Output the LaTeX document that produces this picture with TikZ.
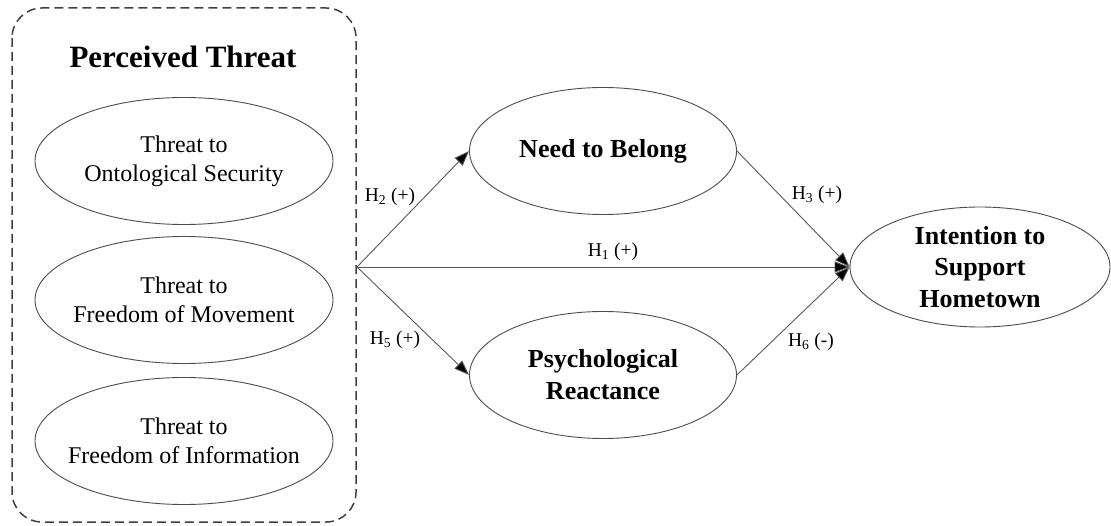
\documentclass[tikz,border=0pt]{standalone}
\usepackage{fontspec}
\setmainfont{Liberation Serif}
\usetikzlibrary{shapes.geometric,arrows.meta}
\tikzset{
  oval/.style={ellipse,draw=black!70,line width=0.9pt,inner sep=0pt,align=center,text=black},
  leftoval/.style={oval,minimum width=298pt,minimum height=127pt},
  lefttext/.style={align=center,inner sep=0pt,font=\fontsize{24}{29}\selectfont},
  midoval/.style={oval,minimum width=267pt,minimum height=127pt,font=\fontsize{26}{32}\selectfont\bfseries},
  rightoval/.style={oval,minimum width=260pt,minimum height=120pt,font=\fontsize{26}{31.5}\selectfont\bfseries},
  hyp/.style={draw=black!65,line width=0.9pt,-{Triangle[length=15pt,width=11pt,fill=black]}},
  hlabel/.style={font=\fontsize{19.5}{22}\selectfont,inner sep=0pt},
  groupbox/.style={draw=black!75,line width=1.5pt,dash pattern=on 9pt off 5pt,rounded corners=30pt}
}
\begin{document}
\begin{tikzpicture}[x=1pt,y=-1pt]
\useasboundingbox (0,0) rectangle (1111,526);
\draw[groupbox] (12,8) rectangle (356,522);
\node[font=\fontsize{31}{35}\selectfont\bfseries,anchor=base,inner sep=0pt] (pt) at (183,68) {Perceived Threat};
\node[leftoval] (os) at (184,161) {};
\node[lefttext] (ost) at (os.center) {Threat to\\Ontological Security};
\node[leftoval] (fm) at (184,300) {};
\node[lefttext] (fmt) at (fm.center) {Threat to\\Freedom of Movement};
\node[leftoval] (fi) at (184,441) {};
\node[lefttext] (fit) at (fi.center) {Threat to\\Freedom of Information};
\coordinate (src) at (357,267);
\node[midoval] (ntb) at (603,151) {Need to Belong};
\node[midoval] (pr) at (603,375) {Psychological\\Reactance};
\node[rightoval] (ish) at (980,267) {Intention to\\Support\\Hometown};
\draw[hyp] (src) -- (ntb.west);
\draw[hyp] (src) -- (pr.west);
\draw[hyp] (src) -- (ish.west);
\draw[hyp] (ntb.east) -- (ish.west);
\draw[hyp] (pr.east) -- (ish.west);
\node[hlabel] (l2) at (390,197) {H\textsubscript{2} (+)};
\node[hlabel] (l5) at (395,340) {H\textsubscript{5} (+)};
\node[hlabel] (l1) at (613,252) {H\textsubscript{1} (+)};
\node[hlabel] (l3) at (817,195) {H\textsubscript{3} (+)};
\node[hlabel] (l6) at (811,342) {H\textsubscript{6} (-)};
\end{tikzpicture}
\end{document}
